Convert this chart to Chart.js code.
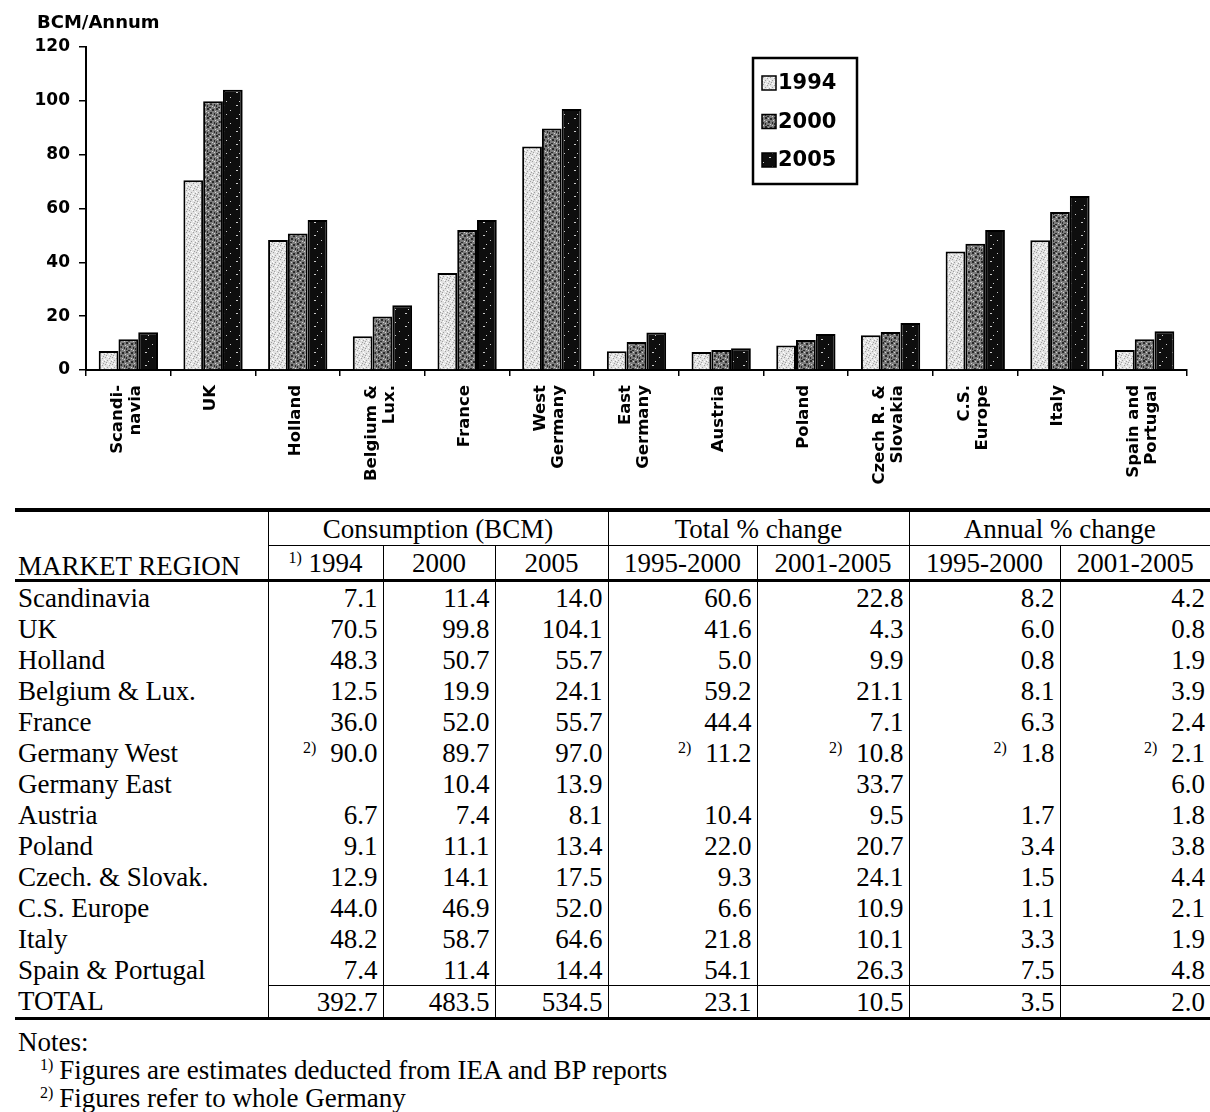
<!DOCTYPE html>
<html>
<head>
<meta charset="utf-8">
<script src="https://cdn.jsdelivr.net/npm/chart.js@4.4.1/dist/chart.umd.min.js"></script>
<style>
  html, body { margin: 0; padding: 0; background: #fff; }
  body { width: 1210px; height: 1112px; position: relative; overflow: hidden; }
  #chartBox { position: absolute; left: 0; top: 0; width: 1210px; height: 505px; }
  #tbl {
    position: absolute; left: 15px; top: 508px;
    border-collapse: collapse; table-layout: fixed;
    font-family: "Liberation Serif", "Times New Roman", serif;
    font-size: 27px; color: #000;
  }
  #tbl td { padding: 0 5px; white-space: nowrap; line-height: 26px; }
  #tbl td.lab { padding-left: 3px; text-align: left; }
  #tbl td.num { text-align: right; border-left: 1.5px solid #000; }
  #tbl tr.body td { height: 31px; }
  #tbl tr.h1 td { height: 33px; border-top: 4px solid #000; text-align: center; }
  #tbl tr.h1 td.lab { text-align: left; }
  #tbl tr.h1 td.grp { border-left: 1.5px solid #000; border-bottom: 1.5px solid #000; }
  #tbl tr.h2 td { height: 33px; border-bottom: 3px solid #000; text-align: center; }
  #tbl tr.h2 td.sub { border-left: 1.5px solid #000; }
  #tbl tr.tot td { height: 31px; border-bottom: 3px solid #000; }
  #tbl tr.tot td.num { border-top: 1.5px solid #000; }
  #tbl sup, #notes sup { font-size: 16px; vertical-align: 9px; line-height: 0; }
  #tbl sup.fn { margin-right: 14px; }
  #notes {
    position: absolute; left: 18px; top: 1028px;
    font-family: "Liberation Serif", "Times New Roman", serif;
    font-size: 27px; line-height: 28px; color: #000;
  }
  #notes .ind { padding-left: 22px; }
  #notes .ind sup { margin-right: 6px; }
</style>
</head>
<body>
<div id="chartBox"><canvas id="chart" width="1210" height="505"></canvas></div>
<table id="tbl"></table>
<div id="notes"></div>
<script>
// ---- Gas consumption by market region (BCM per annum) ----
const chartLabels = [
  ['Scandi-', 'navia'], ['UK'], ['Holland'], ['Belgium &', 'Lux.'], ['France'],
  ['West', 'Germany'], ['East', 'Germany'], ['Austria'], ['Poland'],
  ['Czech R. &', 'Slovakia'], ['C.S.', 'Europe'], ['Italy'], ['Spain and', 'Portugal']
];
const seriesNames = ['1994', '2000', '2005'];
const bars1994 = [7.1, 70.5, 48.3, 12.5, 36.0, 83.0, 7.0, 6.7, 9.1, 12.9, 44.0, 48.2, 7.4];
const bars2000 = [11.4, 99.8, 50.7, 19.9, 52.0, 89.7, 10.4, 7.4, 11.1, 14.1, 46.9, 58.7, 11.4];
const bars2005 = [14.0, 104.1, 55.7, 24.1, 55.7, 97.0, 13.9, 8.1, 13.4, 17.5, 52.0, 64.6, 14.4];
const yTicks = [0, 20, 40, 60, 80, 100, 120];
const yTitle = 'BCM/Annum';

// ---- Table values ----
const regionNames = ['Scandinavia', 'UK', 'Holland', 'Belgium & Lux.', 'France', 'Germany West',
  'Germany East', 'Austria', 'Poland', 'Czech. & Slovak.', 'C.S. Europe', 'Italy', 'Spain & Portugal'];
const cons1994 = [7.1, 70.5, 48.3, 12.5, 36.0, 90.0, null, 6.7, 9.1, 12.9, 44.0, 48.2, 7.4];
const cons2000 = [11.4, 99.8, 50.7, 19.9, 52.0, 89.7, 10.4, 7.4, 11.1, 14.1, 46.9, 58.7, 11.4];
const cons2005 = [14.0, 104.1, 55.7, 24.1, 55.7, 97.0, 13.9, 8.1, 13.4, 17.5, 52.0, 64.6, 14.4];
const totalChg9500 = [60.6, 41.6, 5.0, 59.2, 44.4, 11.2, null, 10.4, 22.0, 9.3, 6.6, 21.8, 54.1];
const totalChg0105 = [22.8, 4.3, 9.9, 21.1, 7.1, 10.8, 33.7, 9.5, 20.7, 24.1, 10.9, 10.1, 26.3];
const annualChg9500 = [8.2, 6.0, 0.8, 8.1, 6.3, 1.8, null, 1.7, 3.4, 1.5, 1.1, 3.3, 7.5];
const annualChg0105 = [4.2, 0.8, 1.9, 3.9, 2.4, 2.1, 6.0, 1.8, 3.8, 4.4, 2.1, 1.9, 4.8];
const totalRow = [392.7, 483.5, 534.5, 23.1, 10.5, 3.5, 2.0];
// whole-Germany figures carry footnote 2 (by column index)
const footnote2Row = 'Germany West';
const footnote2Cols = [0, 3, 4, 5, 6];
const groupHeads = [['Consumption (BCM)', 3], ['Total % change', 2], ['Annual % change', 2]];
const subHeads = ['1994', '2000', '2005', '1995-2000', '2001-2005', '1995-2000', '2001-2005'];
const notes = ['Figures are estimates deducted from IEA and BP reports', 'Figures refer to whole Germany'];

// ---- Fill textures for the three series ----
const canvas = document.getElementById('chart');
const ctx = canvas.getContext('2d');
function texture(size, base, specks) {
  const t = document.createElement('canvas');
  t.width = size; t.height = size;
  const g = t.getContext('2d');
  g.fillStyle = base; g.fillRect(0, 0, size, size);
  specks.forEach(([color, pts]) => {
    g.fillStyle = color;
    pts.forEach(([x, y, w, h]) => g.fillRect(x, y, w || 1, h || 1));
  });
  return ctx.createPattern(t, 'repeat');
}
const fill1994 = texture(7, '#e2e2e2', [
  ['#a0a0a0', [[0, 0], [4, 1], [2, 3], [6, 4], [1, 5], [5, 6]]],
  ['#ffffff', [[3, 0], [6, 2], [0, 3], [4, 4], [2, 6]]]
]);
const fill2000 = texture(9, '#7c7c7c', [
  ['#2a2a2a', [[0, 0, 2, 2], [5, 1, 2, 2], [3, 4, 2, 2], [0, 6, 1, 2], [7, 5, 1, 2], [2, 8, 2, 1]]],
  ['#cfcfcf', [[3, 1], [8, 3], [1, 4], [5, 7], [7, 8]]]
]);
const fill2005 = texture(13, '#0e0e0e', [
  ['#cccccc', [[2, 1, 2, 1], [9, 6], [5, 10]]]
]);
const fills = [fill1994, fill2000, fill2005];

// ---- Category labels, legend box and axis title drawn on the canvas ----
const extras = {
  id: 'extras',
  afterDraw(chart) {
    const c = chart.ctx;
    const xs = chart.scales.x;
    c.save();
    c.fillStyle = '#000';

    // rotated category labels, each block centred on its category
    c.font = 'bold 16.5px "DejaVu Sans"';
    c.textAlign = 'right';
    c.textBaseline = 'middle';
    const lineGap = 18;
    const labelTop = chart.chartArea.bottom + 15;
    chartLabels.forEach((lines, i) => {
      const cx = xs.getPixelForValue(i) - 2;
      lines.forEach((txt, j) => {
        const lx = cx + (j - (lines.length - 1) / 2) * lineGap;
        c.save();
        c.translate(lx, labelTop);
        c.rotate(-Math.PI / 2);
        c.fillText(txt, 0, 0);
        c.restore();
      });
    });

    // axis unit title
    c.font = 'bold 18px "DejaVu Sans"';
    c.textAlign = 'left';
    c.fillText(yTitle, 37, 23);

    // legend
    const bx = 753, by = 58, bw = 104, bh = 126;
    c.fillStyle = '#fff';
    c.fillRect(bx, by, bw, bh);
    c.strokeStyle = '#000';
    c.lineWidth = 2.5;
    c.strokeRect(bx, by, bw, bh);
    c.font = 'bold 21px "DejaVu Sans"';
    chart.data.datasets.forEach((ds, i) => {
      const cy = 83 + i * 38.5;
      c.fillStyle = ds.backgroundColor;
      c.fillRect(bx + 9, cy - 7, 14, 14);
      c.lineWidth = 1.5;
      c.strokeRect(bx + 9, cy - 7, 14, 14);
      c.fillStyle = '#000';
      c.fillText(ds.label, bx + 25, cy + 1);
    });
    c.restore();
  }
};

const datasets = [bars1994, bars2000, bars2005].map((vals, i) => ({
  label: seriesNames[i],
  data: vals,
  backgroundColor: fills[i],
  borderColor: '#000',
  borderWidth: 2,
  categoryPercentage: 0.7,
  barPercentage: 1.0
}));

new Chart(ctx, {
  type: 'bar',
  data: { labels: chartLabels.map(l => l.join(' ')), datasets },
  plugins: [extras],
  options: {
    responsive: false,
    animation: false,
    devicePixelRatio: 1,
    layout: { padding: { left: 0, top: 47, right: 23, bottom: 5 } },
    plugins: { legend: { display: false }, tooltip: { enabled: false } },
    scales: {
      x: {
        grid: { offset: true, drawOnChartArea: false, drawTicks: true, tickLength: 6, color: '#000', lineWidth: 1.5 },
        border: { display: true, color: '#000', width: 2 },
        ticks: { display: false },
        afterFit(scale) { scale.height = 130; }
      },
      y: {
        min: yTicks[0], max: yTicks[yTicks.length - 1],
        afterBuildTicks(scale) { scale.ticks = yTicks.map(v => ({ value: v })); },
        grid: { drawOnChartArea: false, drawTicks: true, tickLength: 7, color: '#000', lineWidth: 1.5 },
        border: { display: true, color: '#000', width: 2 },
        ticks: { color: '#000', padding: 9, font: { family: '"DejaVu Sans"', weight: 'bold', size: 17 } },
        afterFit(scale) { scale.width = 86; }
      }
    }
  }
});

// ---- Data table ----
const colWidths = [253, 115, 112, 113, 149, 152, 151, 150];
const fmt = v => (v === null ? '' : v.toFixed(1));
const esc = s => s.replace(/&/g, '&amp;');
const tbl = document.getElementById('tbl');
let html = '<colgroup>' + colWidths.map(w => `<col style="width:${w}px">`).join('') + '</colgroup>';
html += '<tr class="h1"><td class="lab" rowspan="2" style="vertical-align:bottom;border-bottom:3px solid #000;height:66px">MARKET REGION</td>';
groupHeads.forEach(([t, n]) => { html += `<td class="grp" colspan="${n}">${t}</td>`; });
html += '</tr><tr class="h2">';
subHeads.forEach((t, i) => {
  html += `<td class="sub">${i === 0 ? '<sup>1)</sup> ' : ''}${t}</td>`;
});
html += '</tr>';
regionNames.forEach((name, r) => {
  const vals = [cons1994, cons2000, cons2005, totalChg9500, totalChg0105, annualChg9500, annualChg0105].map(a => a[r]);
  html += `<tr class="body"><td class="lab">${esc(name)}</td>`;
  vals.forEach((v, k) => {
    const mark = (name === footnote2Row && footnote2Cols.includes(k)) ? '<sup class="fn">2)</sup>' : '';
    html += `<td class="num">${mark}${fmt(v)}</td>`;
  });
  html += '</tr>';
});
html += '<tr class="tot"><td class="lab">TOTAL</td>' + totalRow.map(v => `<td class="num">${fmt(v)}</td>`).join('') + '</tr>';
tbl.innerHTML = html;

document.getElementById('notes').innerHTML =
  '<div>Notes:</div>' + notes.map((t, i) => `<div class="ind"><sup>${i + 1})</sup>${t}</div>`).join('');
</script>
</body>
</html>
